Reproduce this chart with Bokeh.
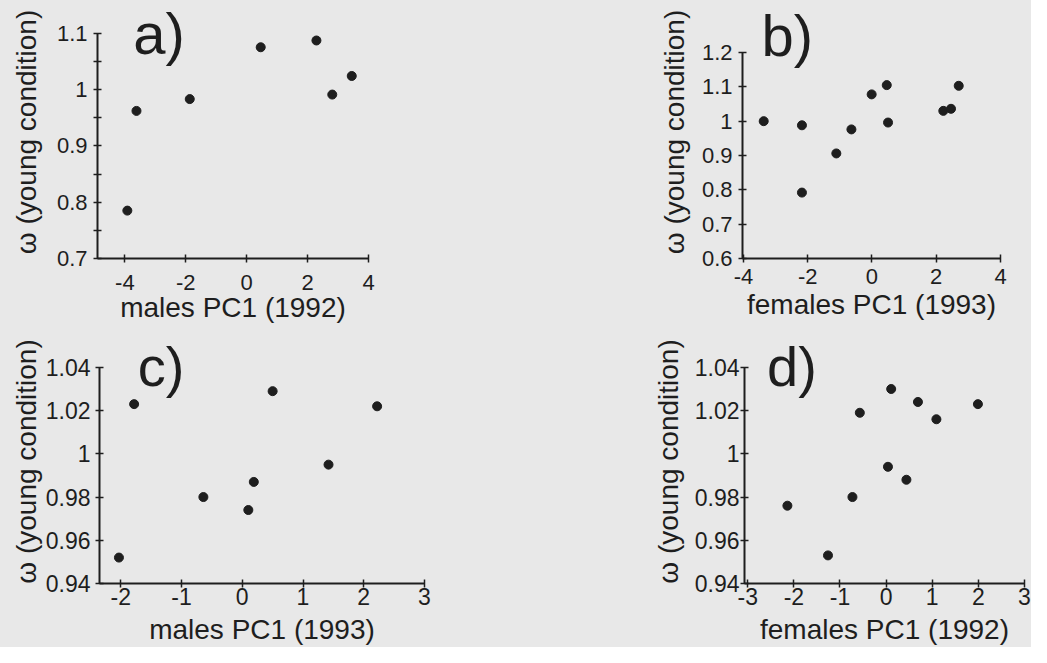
from bokeh.plotting import figure
from bokeh.layouts import column, row
from bokeh.models import FixedTicker, Range1d, Label
from bokeh.embed import file_html
from bokeh.resources import INLINE

# ---------------- data ----------------
a_x = [-3.92, -3.62, -1.87, 0.46, 2.29, 2.81, 3.45]
a_y = [0.785, 0.962, 0.983, 1.075, 1.087, 0.991, 1.024]

b_x = [-3.37, -2.18, -2.18, -1.11, -0.64, -0.01, 0.46, 0.50, 2.22, 2.46, 2.70]
b_y = [1.000, 0.988, 0.792, 0.906, 0.976, 1.078, 1.105, 0.996, 1.030, 1.036, 1.103]

c_x = [-2.03, -1.78, -0.64, 0.10, 0.19, 0.50, 1.42, 2.22]
c_y = [0.952, 1.023, 0.980, 0.974, 0.987, 1.029, 0.995, 1.022]

d_x = [-2.14, -1.26, -0.73, -0.57, 0.04, 0.11, 0.44, 0.69, 1.09, 1.99]
d_y = [0.976, 0.953, 0.980, 1.019, 0.994, 1.030, 0.988, 1.024, 1.016, 1.023]

a_xticks = [-4, -2, 0, 2, 4]
a_xlabels = ["-4", "-2", "0", "2", "4"]
a_yticks = [0.7, 0.8, 0.9, 1.0, 1.1]
a_ylabels = ["0.7", "0.8", "0.9", "1", "1.1"]
a_yminor = [0.75, 0.85, 0.95, 1.05]

b_xticks = [-4, -2, 0, 2, 4]
b_xlabels = ["-4", "-2", "0", "2", "4"]
b_yticks = [0.6, 0.7, 0.8, 0.9, 1.0, 1.1, 1.2]
b_ylabels = ["0.6", "0.7", "0.8", "0.9", "1", "1.1", "1.2"]

c_xticks = [-2, -1, 0, 1, 2, 3]
c_xlabels = ["-2", "-1", "0", "1", "2", "3"]
cd_yticks = [0.94, 0.96, 0.98, 1.0, 1.02, 1.04]
cd_ylabels = ["0.94", "0.96", "0.98", "1", "1.02", "1.04"]

d_xticks = [-3, -2, -1, 0, 1, 2, 3]
d_xlabels = ["-3", "-2", "-1", "0", "1", "2", "3"]

y_title = "\u03c9 (young condition)"
a_title = "males PC1 (1992)"
b_title = "females PC1 (1993)"
c_title = "males PC1 (1993)"
d_title = "females PC1 (1992)"

BG = "#e8e8e8"
INK = "#1e1e1e"
FONT = "Liberation Sans"


def panel(xs, ys, xr, yr, ybounds, xt, xl, yt, yl, yminor, xtitle, letter, lpos,
          lsize, loff, w, h, bl, br, bt, bb, tick_fs, y_std, ylab_std, x_std, xlab_std):
    p = figure(width=w, height=h, output_backend="svg", toolbar_location=None,
               title=None,
               x_range=Range1d(*xr), y_range=Range1d(*yr),
               min_border_left=bl, min_border_right=br,
               min_border_top=bt, min_border_bottom=bb)
    p.background_fill_color = BG
    p.border_fill_color = BG
    p.outline_line_color = None
    p.grid.visible = False
    p.xaxis.ticker = FixedTicker(ticks=xt, minor_ticks=[])
    p.yaxis.ticker = FixedTicker(ticks=yt, minor_ticks=yminor)
    p.yaxis.bounds = ybounds
    p.xaxis.major_label_overrides = dict(zip(xt, xl))
    p.yaxis.major_label_overrides = dict(zip(yt, yl))
    for ax in (p.xaxis[0], p.yaxis[0]):
        ax.axis_line_color = INK
        ax.axis_line_width = 2
        ax.major_tick_line_color = INK
        ax.minor_tick_line_color = INK
        ax.major_tick_line_width = 1.5
        ax.minor_tick_line_width = 1.5
        ax.major_tick_in = 4
        ax.major_tick_out = 4
        ax.minor_tick_in = 4
        ax.minor_tick_out = 4
        ax.major_label_text_font = FONT
        ax.major_label_text_font_size = f"{tick_fs}px"
        ax.major_label_text_color = INK
        ax.axis_label_text_font = FONT
        ax.axis_label_text_font_size = "28px"
        ax.axis_label_text_font_style = "normal"
        ax.axis_label_text_color = INK
    p.xaxis.axis_label = xtitle
    p.yaxis.axis_label = y_title
    p.xaxis.major_label_standoff = x_std
    p.xaxis.axis_label_standoff = xlab_std
    p.yaxis.major_label_standoff = y_std
    p.yaxis.axis_label_standoff = ylab_std
    p.scatter(xs, ys, size=9, color=INK)
    p.add_layout(Label(x=lpos[0], y=lpos[1], y_offset=loff, text=letter,
                       text_font=FONT, text_font_size=f"{lsize}px", text_color=INK,
                       text_baseline="alphabetic"))
    return p


# top row: canvas height 334; bottom row: 313; left col 520, right col 511
cd_top = 1.04 + 28 * 0.1 / 217
pa = panel(a_x, a_y, (-4.9, 4), (0.7, 1.1 + 28 * 0.4 / 228), (0.7, 1.1),
           a_xticks, a_xlabels, a_yticks, a_ylabels, a_yminor, a_title,
           "a)", (-3.73, 1.058), 58, 23,
           520, 334, 97, 152, 5, 73, 22, 6, 12, 12, -1)
pb = panel(b_x, b_y, (-4.03, 4), (0.6, 1.2 + 47 * 0.6 / 206), (0.6, 1.2),
           b_xticks, b_xlabels, b_yticks, b_ylabels, [], b_title,
           "b)", (-3.44, 1.182), 58, 23,
           511, 334, 222, 31, 5, 76, 22, 6, 9, 6, 2)
pc = panel(c_x, c_y, (-2.35, 3), (0.94, cd_top), (0.94, 1.04),
           c_xticks, c_xlabels, cd_yticks, cd_ylabels, [], c_title,
           "c)", (-1.72, 1.0317), 56, 19,
           520, 313, 99, 96, 5, 63, 23, 5, 1, 0, 6)
pd = panel(d_x, d_y, (-3.07, 3), (0.94, cd_top), (0.94, 1.04),
           d_xticks, d_xlabels, cd_yticks, cd_ylabels, [], d_title,
           "d)", (-2.58, 1.0314), 56, 19,
           511, 313, 224, 7, 5, 63, 23, 1, 8, 0, 6)

st = {"background-color": BG}
layout = column(row(pa, pb, styles=st), row(pc, pd, styles=st), styles=st)
open("out.html", "w").write(file_html(layout, INLINE))
